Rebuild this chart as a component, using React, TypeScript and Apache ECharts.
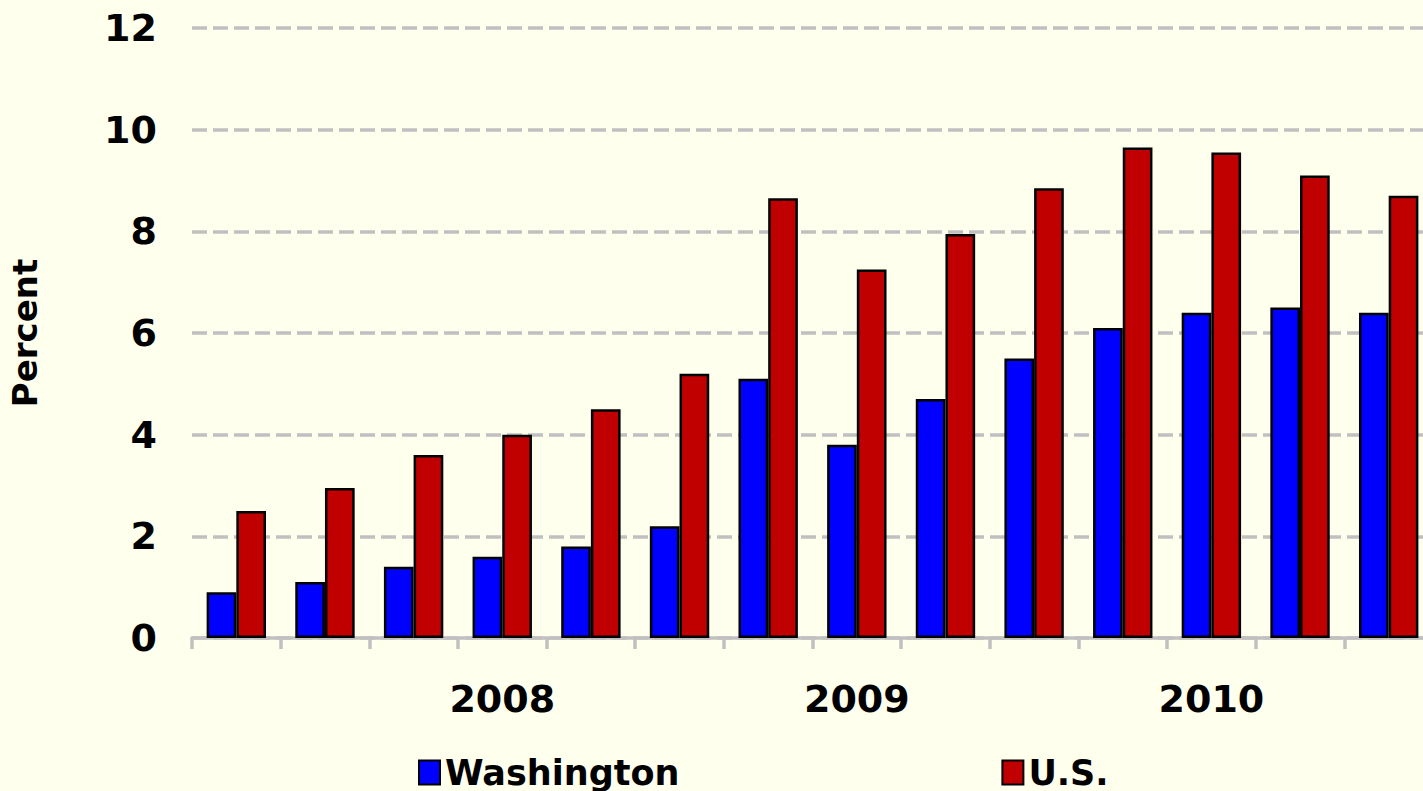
import React, { useEffect, useRef } from "react";
import * as echarts from "echarts";

const categories = ["Q1", "Q2", "Q3", "Q4", "Q5", "Q6", "Q7", "Q8", "Q9", "Q10", "Q11", "Q12", "Q13", "Q14"];
const tickLabels = ["", "", "", "2008", "", "", "", "2009", "", "", "", "2010", "", ""];
const washington = [0.9, 1.1, 1.4, 1.6, 1.8, 2.2, 5.1, 3.8, 4.7, 5.5, 6.1, 6.4, 6.5, 6.4];
const us = [2.5, 2.95, 3.6, 4.0, 4.5, 5.2, 8.65, 7.25, 7.95, 8.85, 9.65, 9.55, 9.1, 8.7];
const seriesNames = ["Washington", "U.S."];

const FONT = "DejaVu Sans";

export default function App() {
  const ref = useRef<HTMLDivElement>(null);
  useEffect(() => {
    if (!ref.current) return;
    const chart = echarts.init(ref.current, undefined, { renderer: "svg" });
    chart.setOption({
      animation: false,
      backgroundColor: "#FFFFEE",
      textStyle: { fontFamily: FONT, fontWeight: "bold", color: "#000" },
      grid: { left: 192, right: -10, top: 28, bottom: 153, containLabel: false, outerBoundsMode: "none" },
      legend: {
        left: 413,
        top: 750,
        itemWidth: 21,
        itemHeight: 24,
        itemGap: 322,
        icon: "rect",
        textStyle: { fontFamily: FONT, fontWeight: "bold", fontSize: 35, color: "#000" },
        data: seriesNames,
      },
      xAxis: {
        type: "category",
        data: categories,
        axisLine: { lineStyle: { color: "#C0C0C0", width: 3.5 } },
        axisTick: { show: true, interval: 0, length: 11, lineStyle: { color: "#C0C0C0", width: 3.5 } },
        axisLabel: {
          interval: 0,
          margin: 42,
          fontSize: 38,
          fontWeight: "bold",
          fontFamily: FONT,
          color: "#000",
          formatter: (_v: string, i: number) => tickLabels[i],
        },
      },
      yAxis: {
        type: "value",
        min: 0,
        max: 12,
        interval: 2,
        name: "Percent",
        nameLocation: "middle",
        nameRotate: 90,
        nameGap: 150,
        nameTextStyle: { fontFamily: FONT, fontWeight: "bold", fontSize: 34, color: "#000" },
        axisLine: { show: false },
        axisTick: { show: false },
        axisLabel: { margin: 35, fontSize: 38, fontWeight: "bold", fontFamily: FONT, color: "#000" },
        splitLine: { lineStyle: { color: "#C0C0C0", width: 3.5, type: [15, 6] } },
      },
      series: [
        {
          name: seriesNames[0],
          type: "bar",
          data: washington,
          barGap: "0%",
          barCategoryGap: "33%",
          itemStyle: { color: "#0000FF", borderColor: "#000", borderWidth: 2.5 },
        },
        {
          name: seriesNames[1],
          type: "bar",
          data: us,
          barGap: "0%",
          barCategoryGap: "33%",
          itemStyle: { color: "#C00000", borderColor: "#000", borderWidth: 2.5 },
        },
      ],
    });
    return () => chart.dispose();
  }, []);
  return (
    <div
      ref={ref}
      style={{ position: "fixed", left: 0, top: 0, width: 1423, height: 791 }}
    />
  );
}
